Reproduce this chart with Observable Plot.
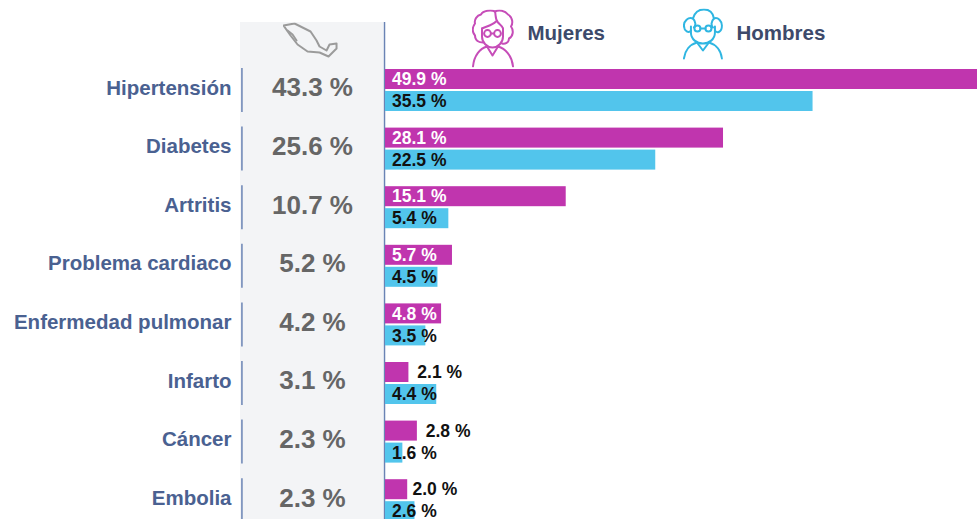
<!DOCTYPE html>
<html><head><meta charset="utf-8">
<style>html,body{margin:0;padding:0;background:#fff}svg{display:block}</style>
<script src="https://cdn.jsdelivr.net/npm/d3@7"></script>
<script src="https://cdn.jsdelivr.net/npm/@observablehq/plot@0.6"></script>
</head><body><div id="chart"></div>
<script>
const categories = ["Hipertensión","Diabetes","Artritis","Problema cardiaco","Enfermedad pulmonar","Infarto","Cáncer","Embolia"];
const nacional = [43.3,25.6,10.7,5.2,4.2,3.1,2.3,2.3];
const mujeres = [49.9,28.1,15.1,5.7,4.8,2.1,2.8,2.0];
const hombres = [35.5,22.5,5.4,4.5,3.5,4.4,1.6,2.6];
const sexes = ["Mujeres","Hombres"];

const MAGENTA="#C035AE", BLUE="#52C5EC", NAVY="#4A6191", LINE="#6A83B4";
const pct = v => v.toFixed(1)+" %";
const rowsM = categories.map((cat,i)=>({cat,sex:"Mujeres",v:mujeres[i]}));
const rowsH = categories.map((cat,i)=>({cat,sex:"Hombres",v:hombres[i]}));
const rowsN = categories.map((cat,i)=>({cat,v:nacional[i]}));
const first = [{cat:categories[0]}];

const svgUri = (w,h,body)=>"data:image/svg+xml,"+encodeURIComponent(`<svg xmlns="http://www.w3.org/2000/svg" width="${w}" height="${h}" viewBox="0 0 ${w} ${h}" fill="none" stroke-linecap="round" stroke-linejoin="round">${body}</svg>`);
const womanIcon = svgUri(42,58,`<g stroke="#C64DB8" stroke-width="2">
<path d="M23 2C19 0 11 1 9 5C5 6 2 10 3 14C0 18 0 23 3 26C3 31 7 33 11 33M23 2C27 0 33 1 36 5C41 8 41 14 39 17C42 21 41 27 37 29C37 33 33 35 30 34"/>
<path d="M23 2C24 6 23 10 26 13C28 15 30 16 31 19M10 19C14 17 20 16 24 12"/>
<path d="M10 19V27C10 33 15 38 20.5 38C26 38 31 33 31 27V19"/>
<circle cx="15.5" cy="24" r="3.4"/><circle cx="25.5" cy="24" r="3.4"/><path d="M19 24H22"/>
<path d="M15 37L20.5 46L26 37M15 37C8 39 2 46 1 57M26 37C33 39 40 46 41 57"/></g>`);
const manIcon = svgUri(40,52,`<g stroke="#2FB6E2" stroke-width="2">
<path d="M10 10C12 3 17 1 21 1C26 1 30 4 31 10"/>
<path d="M10 10C5 8 1 13 1 17C1 23 6 25 8 22M10 10C13 13 13 17 11 19M31 10C35 8 39 13 39 17C39 24 34 25 32 22M31 10C28 13 28 17 30 19"/>
<path d="M8 18V24C8 31 14 35 20 35C26 35 32 31 32 24V18"/>
<circle cx="14.5" cy="20" r="3"/><circle cx="25.5" cy="20" r="3"/><path d="M17.5 20H22.5"/>
<path d="M14 34L20 42L26 34M14 34C7 36 2 42 1 50M26 34C33 36 38 42 39 50"/></g>`);
const mexicoIcon = svgUri(56,36,`<g stroke="#9B9B9B" stroke-width="2">
<path d="M1 3L12 1L22 6L28 9L34 18L37 24L44 28L47 22L54 21L54 26L46 34L37 30L25 29L15 22L8 13Z"/>
<path d="M5 8L10 12L14 18"/></g>`);

const plot = Plot.plot({
  width:977, height:519, marginTop:60.7, marginBottom:-10.5, marginLeft:0, marginRight:0,
  style:{background:"#fff",fontFamily:"'Liberation Sans',Arial,sans-serif"},
  x:{domain:[0,50],range:[383,988],axis:null},
  fy:{domain:categories,padding:0,round:false,axis:null,label:null},
  y:{domain:sexes,paddingInner:2/22,paddingOuter:8.3/22,round:false,axis:null,label:null},
  marks:[
    // grey national column and its top icon
    Plot.rect(first,{fy:"cat",x1:()=>-11.82,x2:()=>0,fill:"#F3F4F6",insetTop:-38.7,insetBottom:-470}),
    Plot.ruleX(first,{fy:"cat",x:()=>0,dx:1,stroke:LINE,strokeWidth:1.5,insetTop:-38.7,insetBottom:-470}),
    Plot.image(first,{fy:"cat",x:()=>-6.03,frameAnchor:"top",dy:-20.7,width:56,height:36,src:()=>mexicoIcon}),
    // legend
    Plot.image(first,{fy:"cat",x:()=>9.05,frameAnchor:"top",dy:-22.7,width:42,height:58,src:()=>womanIcon}),
    Plot.image(first,{fy:"cat",x:()=>26.4,frameAnchor:"top",dy:-26.7,width:40,height:52,src:()=>manIcon}),
    Plot.text(first,{fy:"cat",x:()=>11.9,frameAnchor:"top",dy:-35.7,text:()=>sexes[0],textAnchor:"start",fill:"#3D4A6B",fontSize:20.5,fontWeight:"bold"}),
    Plot.text(first,{fy:"cat",x:()=>29.17,frameAnchor:"top",dy:-35.7,text:()=>sexes[1],textAnchor:"start",fill:"#3D4A6B",fontSize:20.5,fontWeight:"bold"}),
    // left tick, labels, national value
    Plot.ruleX(rowsN,{fy:"cat",x:()=>-11.7,stroke:LINE,strokeWidth:1.5,insetTop:7.3,insetBottom:7.3}),
    Plot.text(rowsN,{fy:"cat",x:()=>0,dx:-152,dy:-2.5,frameAnchor:"middle",text:"cat",textAnchor:"end",fill:NAVY,fontSize:20.5,fontWeight:"bold"}),
    Plot.text(rowsN,{fy:"cat",x:()=>-5.87,dy:-2.5,frameAnchor:"middle",text:d=>pct(d.v),fill:"#666",fontSize:26,fontWeight:"bold"}),
    // bars
    Plot.barX(rowsM,{fy:"cat",y:"sex",x:"v",fill:MAGENTA,insetLeft:2}),
    Plot.barX(rowsH,{fy:"cat",y:"sex",x:"v",fill:BLUE,insetLeft:2}),
    // bar labels
    Plot.text(rowsM.filter(d=>d.v>=4),{fy:"cat",y:"sex",x:()=>0,dx:8.5,text:d=>pct(d.v),textAnchor:"start",fill:"#fff",fontSize:17.5,fontWeight:"bold"}),
    Plot.text(rowsM.filter(d=>d.v<4&&d.v>2),{fy:"cat",y:"sex",x:"v",dx:8.4,text:d=>pct(d.v),textAnchor:"start",fill:"#111",fontSize:17.5,fontWeight:"bold"}),
    Plot.text(rowsM.filter(d=>d.v<=2),{fy:"cat",y:"sex",x:"v",dx:4.8,text:d=>pct(d.v),textAnchor:"start",fill:"#111",fontSize:17.5,fontWeight:"bold"}),
    Plot.text(rowsH,{fy:"cat",y:"sex",x:()=>0,dx:8.5,text:d=>pct(d.v),textAnchor:"start",fill:"#111",fontSize:17.5,fontWeight:"bold"})
  ]
});
document.getElementById("chart").append(plot);
</script></body></html>
